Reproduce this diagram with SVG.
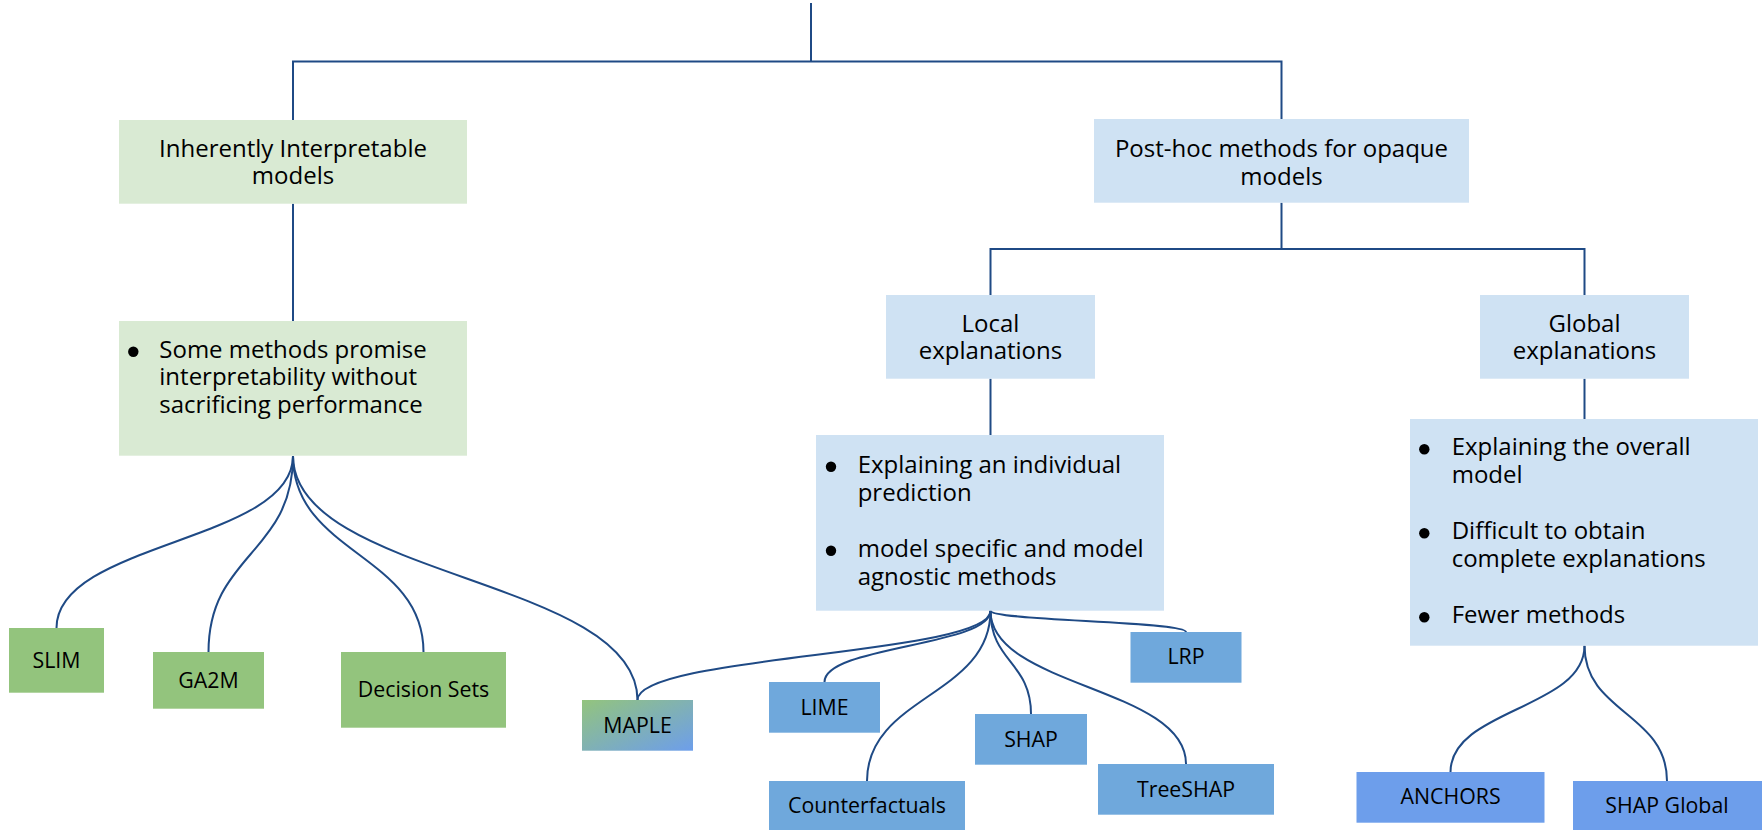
<svg xmlns="http://www.w3.org/2000/svg" width="1762" height="830" viewBox="0 0 1762 830">
  <style>
    .t { font-family: "Open Sans", "Noto Sans", "Liberation Sans", sans-serif; fill: #000000; }
    .big { font-size: 24px; }
    .small { font-size: 21.33px; }
    .mid { text-anchor: middle; }
    .lightgreen { fill: #d9ead3; }
    .lightblue { fill: #cfe2f3; }
    .green { fill: #93c47d; }
    .blue { fill: #6fa8dc; }
    .cornflower { fill: #6d9eeb; }
    .wire { fill: none; stroke: #1f4a85; stroke-width: 2; }
    .dot { fill: #000000; }
  </style>
  <defs>
    <linearGradient id="mapleFill" x1="0" y1="0" x2="1" y2="1">
      <stop offset="0" stop-color="#93c47d"/>
      <stop offset="1" stop-color="#6d9eeb"/>
    </linearGradient>
  </defs>
  <rect width="1762" height="830" fill="#ffffff"/>

  <!-- connectors -->
  <g id="connectors" class="wire">
    <!-- root split -->
    <path d="M811,3 V61.5"/>
    <path d="M293,120 V61.5 H1281.5 V119"/>
    <path d="M293,203.7 V321"/>
    <!-- post-hoc split -->
    <path d="M1281.5,202.7 V249"/>
    <path d="M990.5,295 V249 H1584.5 V295"/>
    <path d="M990.5,378.7 V435"/>
    <path d="M1584.5,378.7 V419"/>
    <!-- inherently interpretable methods -->
    <path d="M293,456 C293,542 56.5,542 56.5,628"/>
    <path d="M293,456 C293,554 208.5,554 208.5,652"/>
    <path d="M293,456 C293,554 423.5,554 423.5,652"/>
    <path d="M293,456 C293,578 637.5,578 637.5,700"/>
    <!-- local methods -->
    <path d="M990.5,610.7 C990.5,655 637.5,655 637.5,700"/>
    <path d="M990.5,610.7 C990.5,646 824.5,646 824.5,682"/>
    <path d="M990.5,610.7 C990.5,696 867,696 867,781"/>
    <path d="M990.5,610.7 C990.5,662 1031,662 1031,714"/>
    <path d="M990.5,610.7 C990.5,687 1186,687 1186,764"/>
    <path d="M990.5,610.7 C990.5,621 1186,621 1186,632"/>
    <!-- global methods -->
    <path d="M1584.5,645.7 C1584.5,709 1450.5,709 1450.5,772"/>
    <path d="M1584.5,645.7 C1584.5,713 1667,713 1667,781"/>
  </g>

  <!-- upper level -->
  <g id="inherently">
    <rect class="lightgreen" x="119" y="120" width="348" height="83.7"/>
    <text class="t big mid" x="293" y="156.7">Inherently Interpretable</text>
    <text class="t big mid" x="293" y="184.3">models</text>
  </g>
  <g id="inherently-notes">
    <rect class="lightgreen" x="119" y="321" width="348" height="134.7"/>
    <circle class="dot" cx="133.3" cy="351.7" r="5.2"/>
    <text class="t big" x="159.3" y="357.7">Some methods promise</text>
    <text class="t big" x="159.3" y="385.3">interpretability without</text>
    <text class="t big" x="159.3" y="413.3">sacrificing performance</text>
  </g>
  <g id="posthoc">
    <rect class="lightblue" x="1094" y="119" width="375" height="83.7"/>
    <text class="t big mid" x="1281.5" y="157.3">Post-hoc methods for opaque</text>
    <text class="t big mid" x="1281.5" y="185">models</text>
  </g>
  <g id="local">
    <rect class="lightblue" x="886" y="295" width="209" height="83.7"/>
    <text class="t big mid" x="990.5" y="331.7">Local</text>
    <text class="t big mid" x="990.5" y="359.3">explanations</text>
  </g>
  <g id="global">
    <rect class="lightblue" x="1480" y="295" width="209" height="83.7"/>
    <text class="t big mid" x="1584.5" y="331.7">Global</text>
    <text class="t big mid" x="1584.5" y="359.3">explanations</text>
  </g>
  <g id="local-notes">
    <rect class="lightblue" x="816" y="435" width="348" height="175.7"/>
    <circle class="dot" cx="831" cy="466.7" r="5.2"/>
    <text class="t big" x="857.7" y="473.3">Explaining an individual</text>
    <text class="t big" x="857.7" y="501">prediction</text>
    <circle class="dot" cx="831" cy="550.7" r="5.2"/>
    <text class="t big" x="857.7" y="557.3">model specific and model</text>
    <text class="t big" x="857.7" y="585">agnostic methods</text>
  </g>
  <g id="global-notes">
    <rect class="lightblue" x="1410" y="419" width="348" height="226.7"/>
    <circle class="dot" cx="1424.3" cy="449.3" r="5.2"/>
    <text class="t big" x="1451.7" y="455">Explaining the overall</text>
    <text class="t big" x="1451.7" y="482.7">model</text>
    <circle class="dot" cx="1424.3" cy="533.3" r="5.2"/>
    <text class="t big" x="1451.7" y="539.3">Difficult to obtain</text>
    <text class="t big" x="1451.7" y="566.7">complete explanations</text>
    <circle class="dot" cx="1424.3" cy="617.3" r="5.2"/>
    <text class="t big" x="1451.7" y="622.7">Fewer methods</text>
  </g>

  <!-- methods -->
  <g id="slim">
    <rect class="green" x="9" y="628" width="95" height="64.7"/>
    <text class="t small mid" x="56.5" y="668.3">SLIM</text>
  </g>
  <g id="ga2m">
    <rect class="green" x="153" y="652" width="111" height="56.7"/>
    <text class="t small mid" x="208.5" y="688.3">GA2M</text>
  </g>
  <g id="decision-sets">
    <rect class="green" x="341" y="652" width="165" height="75.7"/>
    <text class="t small mid" x="423.5" y="697.3">Decision Sets</text>
  </g>
  <g id="maple">
    <rect fill="url(#mapleFill)" x="582" y="700" width="111" height="50.7"/>
    <text class="t small mid" x="637.5" y="732.7">MAPLE</text>
  </g>
  <g id="lime">
    <rect class="blue" x="769" y="682" width="111" height="50.7"/>
    <text class="t small mid" x="824.5" y="715">LIME</text>
  </g>
  <g id="counterfactuals">
    <rect class="blue" x="769" y="781" width="196" height="50.7"/>
    <text class="t small mid" x="867" y="813.3">Counterfactuals</text>
  </g>
  <g id="shap">
    <rect class="blue" x="975" y="714" width="112" height="50.7"/>
    <text class="t small mid" x="1031" y="747.3">SHAP</text>
  </g>
  <g id="treeshap">
    <rect class="blue" x="1098" y="764" width="176" height="50.7"/>
    <text class="t small mid" x="1186" y="796.7">TreeSHAP</text>
  </g>
  <g id="lrp">
    <rect class="blue" x="1130.5" y="632" width="111" height="50.7"/>
    <text class="t small mid" x="1186" y="664.3">LRP</text>
  </g>
  <g id="anchors">
    <rect class="cornflower" x="1356.5" y="772" width="188" height="50.7"/>
    <text class="t small mid" x="1450.5" y="804">ANCHORS</text>
  </g>
  <g id="shap-global">
    <rect class="cornflower" x="1573" y="781" width="189" height="50.7"/>
    <text class="t small mid" x="1667" y="813.3">SHAP Global</text>
  </g>
</svg>
